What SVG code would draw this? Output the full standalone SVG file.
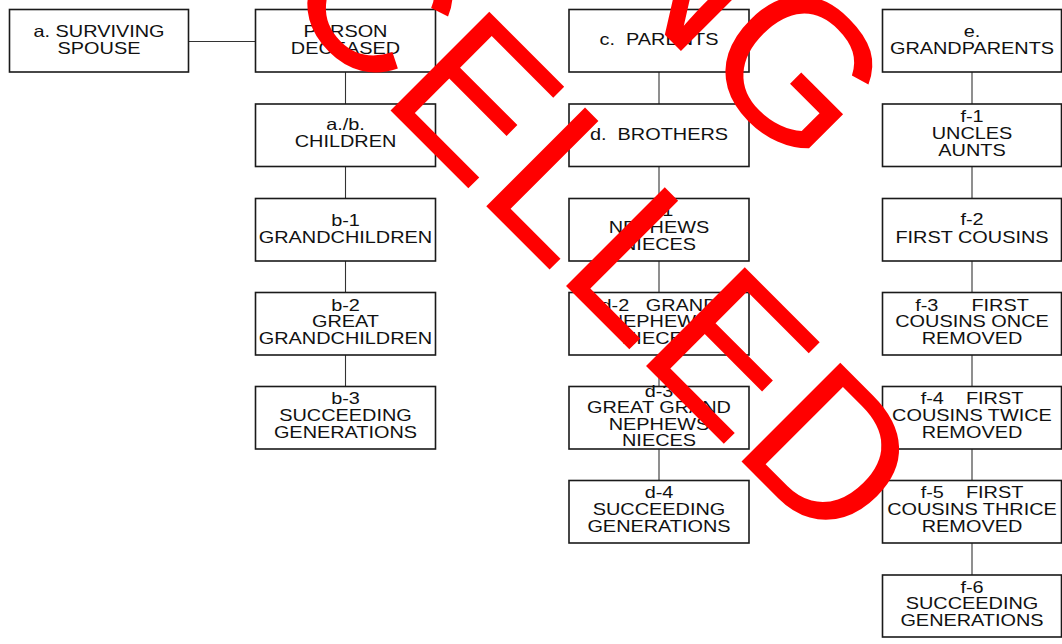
<svg xmlns="http://www.w3.org/2000/svg" width="1062" height="644" viewBox="0 0 1062 644">
<style>
.box{fill:#fff;stroke:#1a1a1a;stroke-width:1.6}
.con{stroke:#333;stroke-width:1.1;fill:none}
.t text{font-family:"Liberation Sans",Arial,sans-serif;font-size:16.3px;fill:#111;text-anchor:middle;white-space:pre}
.wm{font-family:"Liberation Sans",Arial,sans-serif;font-size:203px;fill:#ff0000}
</style>
<rect width="1062" height="644" fill="#fff"/>
<g id="connectors">
<line class="con" x1="188.5" y1="41.5" x2="255.5" y2="41.5"/>
<line class="con" x1="345.5" y1="72" x2="345.5" y2="104"/>
<line class="con" x1="345.5" y1="166.5" x2="345.5" y2="198.5"/>
<line class="con" x1="345.5" y1="261" x2="345.5" y2="292.5"/>
<line class="con" x1="345.5" y1="355" x2="345.5" y2="386.5"/>
<line class="con" x1="659" y1="72" x2="659" y2="104"/>
<line class="con" x1="659" y1="166.5" x2="659" y2="198.5"/>
<line class="con" x1="659" y1="261" x2="659" y2="292.5"/>
<line class="con" x1="659" y1="355" x2="659" y2="386.5"/>
<line class="con" x1="659" y1="449" x2="659" y2="480.5"/>
<line class="con" x1="972" y1="72" x2="972" y2="104"/>
<line class="con" x1="972" y1="166.5" x2="972" y2="198.5"/>
<line class="con" x1="972" y1="261" x2="972" y2="292.5"/>
<line class="con" x1="972" y1="355" x2="972" y2="386.5"/>
<line class="con" x1="972" y1="449" x2="972" y2="480.5"/>
<line class="con" x1="972" y1="543" x2="972" y2="575"/>
</g>
<g id="spouse"><rect class="box" x="9.5" y="9.5" width="179" height="62.5"/><g class="t" transform="translate(99 0) scale(1.22 1)"><text y="36.7">a. SURVIVING</text><text y="54">SPOUSE</text></g></g>
<g id="deceased"><rect class="box" x="255.5" y="9.5" width="180" height="62.5"/><g class="t" transform="translate(345.5 0) scale(1.22 1)"><text y="36.7">PERSON</text><text y="54">DECEASED</text></g></g>
<g id="children"><rect class="box" x="255.5" y="104" width="180" height="62.5"/><g class="t" transform="translate(345.5 0) scale(1.22 1)"><text y="130">a./b.</text><text y="147.3">CHILDREN</text></g></g>
<g id="grandchildren"><rect class="box" x="255.5" y="198.5" width="180" height="62.5"/><g class="t" transform="translate(345.5 0) scale(1.22 1)"><text y="226.2">b-1</text><text y="243.3">GRANDCHILDREN</text></g></g>
<g id="greatgrandchildren"><rect class="box" x="255.5" y="292.5" width="180" height="62.5"/><g class="t" transform="translate(345.5 0) scale(1.22 1)"><text y="310.7">b-2</text><text y="327.5">GREAT</text><text y="344.3">GRANDCHILDREN</text></g></g>
<g id="b3"><rect class="box" x="255.5" y="386.5" width="180" height="62.5"/><g class="t" transform="translate(345.5 0) scale(1.22 1)"><text y="404">b-3</text><text y="420.8">SUCCEEDING</text><text y="437.6">GENERATIONS</text></g></g>
<g id="parents"><rect class="box" x="569" y="9.5" width="180" height="62.5"/><g class="t" transform="translate(659 0) scale(1.22 1)"><text y="45">c.  PARENTS</text></g></g>
<g id="brothers"><rect class="box" x="569" y="104" width="180" height="62.5"/><g class="t" transform="translate(659 0) scale(1.22 1)"><text y="140">d.  BROTHERS</text></g></g>
<g id="nephews"><rect class="box" x="569" y="198.5" width="180" height="62.5"/><g class="t" transform="translate(659 0) scale(1.22 1)"><text y="216.5">d-1</text><text y="233.3">NEPHEWS</text><text y="250">NIECES</text></g></g>
<g id="grandnephews"><rect class="box" x="569" y="292.5" width="180" height="62.5"/><g class="t" transform="translate(659 0) scale(1.22 1)"><text y="310.7">d-2   GRAND</text><text y="327.5">NEPHEWS</text><text y="344.3">NIECES</text></g></g>
<g id="greatgrandnephews"><rect class="box" x="569" y="386.5" width="180" height="62.5"/><g class="t" transform="translate(659 0) scale(1.22 1)"><text y="397.3">d-3</text><text y="413.5">GREAT GRAND</text><text y="430">NEPHEWS</text><text y="446">NIECES</text></g></g>
<g id="d4"><rect class="box" x="569" y="480.5" width="180" height="62.5"/><g class="t" transform="translate(659 0) scale(1.22 1)"><text y="498.3">d-4</text><text y="515.3">SUCCEEDING</text><text y="532.3">GENERATIONS</text></g></g>
<g id="grandparents"><rect class="box" x="882.5" y="9.5" width="179" height="62.5"/><g class="t" transform="translate(972 0) scale(1.22 1)"><text y="36.7">e.</text><text y="54">GRANDPARENTS</text></g></g>
<g id="uncles"><rect class="box" x="882.5" y="104" width="179" height="62.5"/><g class="t" transform="translate(972 0) scale(1.22 1)"><text y="121.7">f-1</text><text y="139.3">UNCLES</text><text y="156">AUNTS</text></g></g>
<g id="firstcousins"><rect class="box" x="882.5" y="198.5" width="179" height="62.5"/><g class="t" transform="translate(972 0) scale(1.22 1)"><text y="225.5">f-2</text><text y="242.8">FIRST COUSINS</text></g></g>
<g id="f3"><rect class="box" x="882.5" y="292.5" width="179" height="62.5"/><g class="t" transform="translate(972 0) scale(1.22 1)"><text y="310.7">f-3      FIRST</text><text y="327.5">COUSINS ONCE</text><text y="344.3">REMOVED</text></g></g>
<g id="f4"><rect class="box" x="882.5" y="386.5" width="179" height="62.5"/><g class="t" transform="translate(972 0) scale(1.22 1)"><text y="404.3">f-4    FIRST</text><text y="421.5">COUSINS TWICE</text><text y="438.3">REMOVED</text></g></g>
<g id="f5"><rect class="box" x="882.5" y="480.5" width="179" height="62.5"/><g class="t" transform="translate(972 0) scale(1.22 1)"><text y="498.3">f-5    FIRST</text><text y="515.2">COUSINS THRICE</text><text y="532.3">REMOVED</text></g></g>
<g id="f6"><rect class="box" x="882.5" y="575" width="179" height="62"/><g class="t" transform="translate(972 0) scale(1.22 1)"><text y="592.7">f-6</text><text y="609.5">SUCCEEDING</text><text y="626.5">GENERATIONS</text></g></g>
<g id="watermark">
<text class="wm" transform="translate(589,-41) rotate(45)">NG</text>
<text class="wm" transform="translate(-28,-308) rotate(45)">CANCELLED</text>
</g>
</svg>
